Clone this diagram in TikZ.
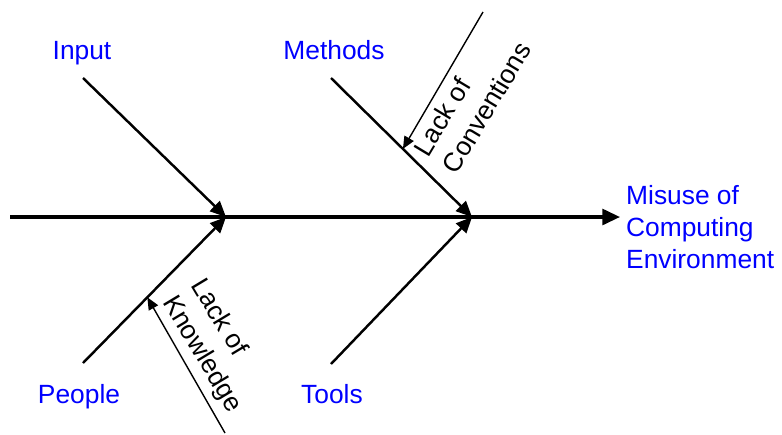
\documentclass[tikz,border=0pt]{standalone}
\usepackage{fontspec}
\setmainfont{Liberation Sans}
\usetikzlibrary{arrows.meta, positioning, calc}
\definecolor{LabelBlue}{RGB}{0,0,255}

\begin{document}
\begin{tikzpicture}[x=0.02cm, y=-0.02cm,
    spine/.style={line width=1.8pt, -{Triangle[length=10pt, width=9pt]}},
    bone/.style={line width=1.4pt, -{Triangle[length=9pt, width=8pt]}},
    cause/.style={line width=0.8pt, -{Triangle[length=7pt, width=6pt]}},
    category/.style={font=\fontsize{15}{18}\selectfont, text=LabelBlue},
    note/.style={font=\fontsize{15}{19}\selectfont, align=left}]
  \useasboundingbox (0,0) rectangle (782,434);
  % spine and effect
  \coordinate (tail) at (10,217);
  \coordinate (j1) at (226,217);
  \coordinate (j2) at (472,217);
  \node[category, anchor=west, align=left] (effect) at (620,227)
        {Misuse of\\Computing\\Environment};
  \draw[spine] (tail) -- (tail -| effect.west);
  % main bones with their category labels
  \foreach \name/\txt/\lx/\ly/\bx/\by/\jn in {
      input/Input/82/59/83/78/j1,
      people/People/79/403/83/363/j1,
      methods/Methods/334/59/331/78/j2,
      tools/Tools/332/403/331/364/j2}
  {
    \node[category, anchor=base] (\name) at (\lx,\ly) {\txt};
    \coordinate (\name0) at (\bx,\by);
    \draw[bone] (\name0) -- (\jn);
  }
  % sub-causes
  \coordinate (conv0) at (483,12);
  \coordinate (know0) at (225,433);
  \draw[cause] (conv0) -- ($(methods0)!0.51!(j2)$);
  \draw[cause] (know0) -- ($(people0)!0.45!(j1)$);
  \node[note, rotate=59] (conv) at (472,99) {Lack of\\Conventions};
  \node[note, rotate=-59] (know) at (216,346) {Lack of\\Knowledge};
\end{tikzpicture}
\end{document}
